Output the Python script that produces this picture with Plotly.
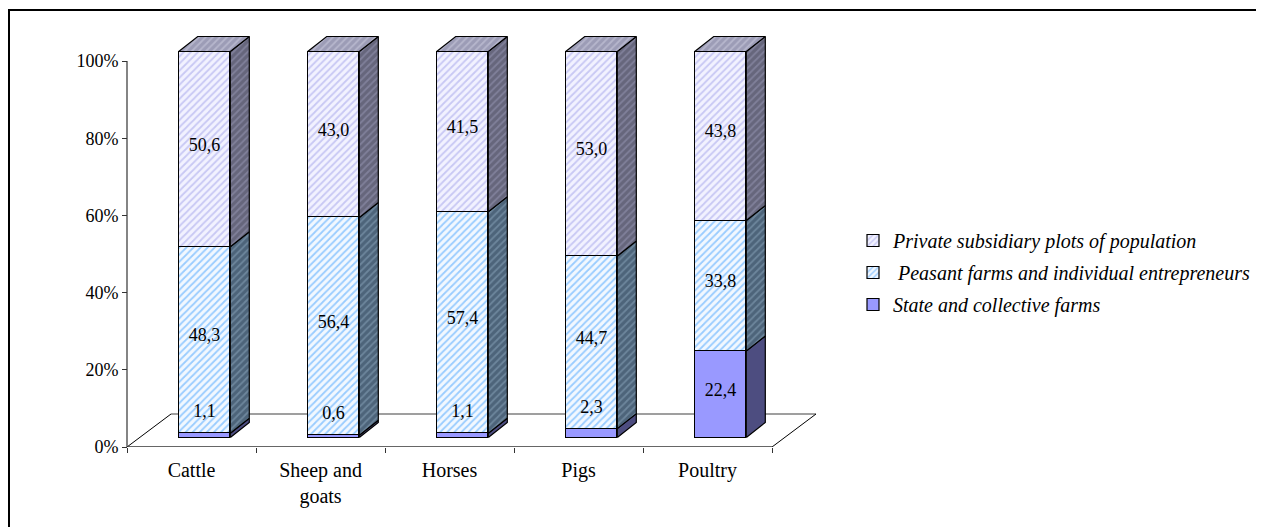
import plotly.graph_objects as go

# ---------------- data ----------------
categories = ["Cattle", "Sheep and<br>goats", "Horses", "Pigs", "Poultry"]
series_names = ["State and collective farms",
                " Peasant farms and individual entrepreneurs",
                "Private subsidiary plots of population"]
state = [1.1, 0.6, 1.1, 2.3, 22.4]
peasant = [48.3, 56.4, 57.4, 44.7, 33.8]
private = [50.6, 43.0, 41.5, 53.0, 43.8]
y_tick_vals = [0, 20, 40, 60, 80, 100]
y_tick_text = ["0%", "20%", "40%", "60%", "80%", "100%"]

# ---------------- geometry (screen pixels) ----------------
W, H = 1264, 527
PAGE = 8               # default body margin of the written page
L_px, R_px, T_px, B_px = 124, 830, 20, 447
AX_X_px = 127
PX_PER_CAT = 129.0
PX_PER_PCT = 3.86
BAR_SHIFT_X = 13
BAR_SHIFT_Y = 9.5
FLOOR_DX, FLOOR_DY = 44, 33
BAR_DX, BAR_DY = 19, 15
BAR_W = 0.40

x0 = -0.5 - (AX_X_px - L_px) / PX_PER_CAT
x1 = -0.5 + (R_px - AX_X_px) / PX_PER_CAT
y1 = (B_px - T_px) / PX_PER_PCT
xr1 = [x0, x1]
yr1 = [0, y1]
xr2 = [x0 - BAR_SHIFT_X / PX_PER_CAT, x1 - BAR_SHIFT_X / PX_PER_CAT]
yr2 = [-BAR_SHIFT_Y / PX_PER_PCT, y1 - BAR_SHIFT_Y / PX_PER_PCT]
fdx, fdy = FLOOR_DX / PX_PER_CAT, FLOOR_DY / PX_PER_PCT
ddx, ddy = BAR_DX / PX_PER_CAT, BAR_DY / PX_PER_PCT

pos = list(range(len(categories)))
n = len(categories)
first_b, last_b = -0.5, n - 0.5

FONT = "Liberation Serif, Times New Roman, serif"

styles = [
    dict(front=dict(shape="", bg="#9999ff", fg="#9999ff"),
         side=dict(shape="", bg="#4d4d80", fg="#4d4d80")),
    dict(front=dict(shape="/", bg="#f2f8ff", fg="#99ccff"),
         side=dict(shape="/", bg="#4d647a", fg="#6d869c")),
    dict(front=dict(shape="/", bg="#f2f2ff", fg="#c8c8f4"),
         side=dict(shape="/", bg="#66667c", fg="#80809a"),
         top=dict(shape="/", bg="#9c9cb6", fg="#b6b6cc")),
]

fig = go.Figure()

# ---------------- floor & axis lines (base axes) ----------------
fig.add_trace(go.Scatter(
    x=[first_b + fdx, last_b + fdx], y=[fdy, fdy], mode="lines",
    line=dict(color="#7f7f7f", width=1.4), hoverinfo="skip", showlegend=False))
fig.add_trace(go.Scatter(
    x=[first_b, first_b + fdx, None, last_b, last_b + fdx],
    y=[0, fdy, None, 0, fdy], mode="lines",
    line=dict(color="#000000", width=1), hoverinfo="skip", showlegend=False))
fig.add_trace(go.Scatter(
    x=[first_b, last_b], y=[0, 0], mode="lines",
    line=dict(color="#333333", width=1.4), hoverinfo="skip", showlegend=False))
fig.add_trace(go.Scatter(
    x=[first_b, first_b], y=[0, y_tick_vals[-1]], mode="lines",
    line=dict(color="#333333", width=1.2), hoverinfo="skip", showlegend=False))

# ---------------- bars (shifted axes) ----------------
series = [state, peasant, private]
bottoms = []
acc = [0.0] * n
for s in series:
    bottoms.append(acc[:])
    acc = [a + v for a, v in zip(acc, s)]

for k, (s, name) in enumerate(zip(series, series_names)):
    st = styles[k]["front"]
    fig.add_trace(go.Bar(
        x=pos, y=s, width=BAR_W, name=name, xaxis="x2", yaxis="y2",
        marker=dict(color=st["bg"], line=dict(color="black", width=1.2),
                    pattern=dict(shape=st["shape"], fgcolor=st["fg"], bgcolor=st["bg"],
                                 size=5, solidity=0.35, fillmode="replace")),
        hoverinfo="skip", legendgroup=str(k), legendrank=len(series) - k))

# side faces
for k, s in enumerate(series):
    st = styles[k]["side"]
    xs, ys = [], []
    for i in range(n):
        b = bottoms[k][i]
        t = b + s[i]
        xr = pos[i] + BAR_W / 2
        xs += [xr, xr + ddx, xr + ddx, xr, xr, None]
        ys += [b, b + ddy, t + ddy, t, b, None]
    fig.add_trace(go.Scatter(
        x=xs, y=ys, xaxis="x2", yaxis="y2", mode="lines", fill="toself",
        fillcolor=st["bg"],
        fillpattern=dict(shape=st["shape"], fgcolor=st["fg"], bgcolor=st["bg"],
                         size=5, solidity=0.35, fillmode="replace"),
        line=dict(color="black", width=1.2), hoverinfo="skip", showlegend=False))

# top faces
st = styles[2]["top"]
xs, ys = [], []
for i in range(n):
    t = acc[i]
    xl, xr = pos[i] - BAR_W / 2, pos[i] + BAR_W / 2
    xs += [xl, xl + ddx, xr + ddx, xr, xl, None]
    ys += [t, t + ddy, t + ddy, t, t, None]
fig.add_trace(go.Scatter(
    x=xs, y=ys, xaxis="x2", yaxis="y2", mode="lines", fill="toself",
    fillcolor=st["bg"],
    fillpattern=dict(shape=st["shape"], fgcolor=st["fg"], bgcolor=st["bg"],
                     size=5, solidity=0.35, fillmode="replace"),
    line=dict(color="black", width=1.2), hoverinfo="skip", showlegend=False))

# data labels
SMALL = 5.0
LABEL_LIFT = 5.3
lx, ly, lt = [], [], []
for k, s in enumerate(series):
    for i in range(n):
        b = bottoms[k][i]
        v = s[i]
        lx.append(pos[i])
        ly.append(b + v + LABEL_LIFT if v < SMALL else b + v / 2 + 0.8)
        lt.append(f"{v:.1f}".replace(".", ","))
fig.add_trace(go.Scatter(
    x=lx, y=ly, text=lt, mode="text", xaxis="x2", yaxis="y2",
    textposition="middle center", textfont=dict(family=FONT, size=18, color="black"),
    hoverinfo="skip", showlegend=False))

# ---------------- layout ----------------
pw, ph = R_px - L_px, B_px - T_px
def px2paper_x(px):
    return (px - L_px) / pw
def px2paper_y(py):
    return (B_px - py) / ph

fig.update_layout(
    width=W, height=H,
    margin=dict(l=L_px - PAGE, r=W - (R_px - PAGE), t=T_px - PAGE, b=H - (B_px - PAGE), pad=0),
    paper_bgcolor="white", plot_bgcolor="rgba(0,0,0,0)",
    barmode="stack", bargap=0,
    font=dict(family=FONT, size=18, color="black"),
    xaxis=dict(range=xr1, tickmode="array", tickvals=pos, ticktext=categories,
               ticks="", showgrid=False, zeroline=False, showline=False,
               tickfont=dict(family=FONT, size=20, color="black"),
               ticklabelstandoff=9,
               minor=dict(tickmode="array", tickvals=[p - 0.5 for p in pos] + [last_b],
                          ticks="outside", ticklen=5, tickcolor="#333333", tickwidth=1,
                          showgrid=False)),
    yaxis=dict(range=yr1, tickmode="array", tickvals=y_tick_vals, ticktext=y_tick_text,
               ticks="outside", ticklen=5, tickcolor="#333333", tickwidth=1,
               showgrid=False, zeroline=False, showline=False,
               anchor="free", position=px2paper_x(AX_X_px),
               tickfont=dict(family=FONT, size=18, color="black")),
    xaxis2=dict(range=xr2, overlaying="x", visible=False, showgrid=False),
    yaxis2=dict(range=yr2, overlaying="y", visible=False, showgrid=False),
    legend=dict(x=px2paper_x(853), y=px2paper_y(221), xanchor="left", yanchor="top",
                traceorder="grouped", tracegroupgap=3, bgcolor="rgba(0,0,0,0)",
                font=dict(family=FONT, size=20, color="black", style="italic")),
    shapes=[dict(type="rect", xref="paper", yref="paper",
                 x0=px2paper_x(9), x1=px2paper_x(W + 30),
                 y0=px2paper_y(H + 30), y1=px2paper_y(10),
                 line=dict(color="black", width=2), fillcolor="rgba(0,0,0,0)", layer="below")],
)

fig.write_html("out.html")
